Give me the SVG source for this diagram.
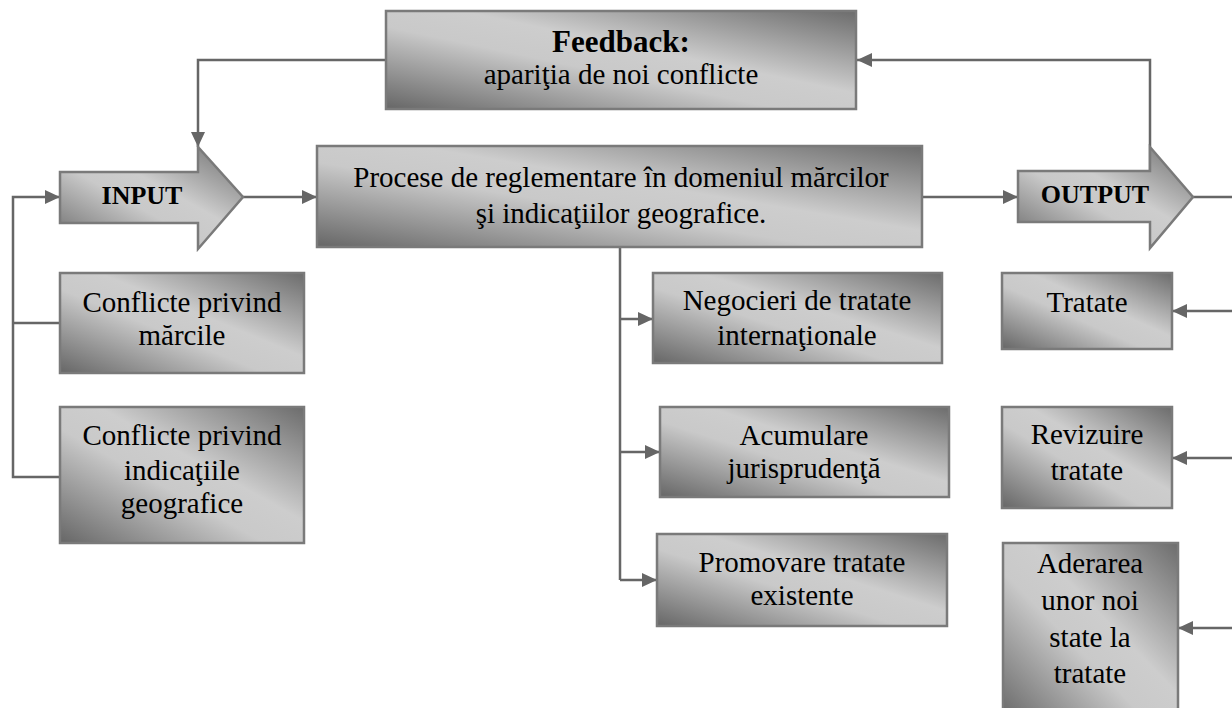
<svg xmlns="http://www.w3.org/2000/svg" width="1232" height="708" viewBox="0 0 1232 708">
<defs>
<linearGradient id="g" x1="0" y1="1" x2="1" y2="0">
<stop offset="0" stop-color="#666666"/>
<stop offset="0.42" stop-color="#c9c9c9"/>
<stop offset="0.58" stop-color="#cdcdcd"/>
<stop offset="1" stop-color="#6c6c6c"/>
</linearGradient>
<marker id="ah" markerUnits="userSpaceOnUse" markerWidth="15" markerHeight="14" refX="15" refY="7" orient="auto">
<path d="M0,0 L15,7 L0,14 z" fill="#666666"/>
</marker>
<style>
.box{fill:url(#g);stroke:#7a7a7a;stroke-width:2.5}
.t{font-family:"Liberation Serif","Times New Roman",serif;font-size:29px;fill:#000;text-anchor:middle}
.b{font-weight:bold}
.c{fill:none;stroke:#666666;stroke-width:2.5}
.a{marker-end:url(#ah)}
</style>
</defs>
<rect width="1232" height="708" fill="#ffffff"/>
<g id="connectors">
<path class="c a" d="M386,60 H198 V147"/>
<path class="c" d="M60,323 H13"/>
<path class="c a" d="M60,477 H13 V197 H60"/>
<path class="c a" d="M243,197 H317"/>
<path class="c a" d="M922,197 H1018"/>
<path class="c a" d="M1150,171 V60 H857"/>
<path class="c" d="M1193,197 H1237 V628"/>
<path class="c a" d="M1237,311 H1172"/>
<path class="c a" d="M1237,458 H1172"/>
<path class="c a" d="M1237,628 H1178"/>
<path class="c" d="M620,247 V580"/>
<path class="c a" d="M620,319 H653"/>
<path class="c a" d="M620,452 H660"/>
<path class="c a" d="M620,580 H657"/>
</g>
<g id="feedback">
<rect class="box" x="386" y="11" width="470" height="98"/>
<text class="t b" x="621" y="52" style="font-size:31px">Feedback:</text>
<text class="t" x="621" y="84">apariţia de noi conflicte</text>
</g>
<g id="input">
<path class="box" d="M60,172 H198 V147 L243,197 L198,249 V223 H60 Z"/>
<text class="t b" x="142" y="204" style="font-size:26px">INPUT</text>
</g>
<g id="process">
<rect class="box" x="317" y="146" width="605" height="101"/>
<text class="t" x="621" y="187">Procese de reglementare în domeniul mărcilor</text>
<text class="t" x="621" y="223">şi indicaţiilor geografice.</text>
</g>
<g id="output">
<path class="box" d="M1018,171 H1150 V147 L1193,197 L1150,248 V222 H1018 Z"/>
<text class="t b" x="1095" y="203" style="font-size:26px">OUTPUT</text>
</g>
<g id="conflicte-marci">
<rect class="box" x="60" y="273" width="244" height="100"/>
<text class="t" x="182" y="312">Conflicte privind</text>
<text class="t" x="182" y="345">mărcile</text>
</g>
<g id="conflicte-ig">
<rect class="box" x="60" y="407" width="244" height="136"/>
<text class="t" x="182" y="445">Conflicte privind</text>
<text class="t" x="182" y="480">indicaţiile</text>
<text class="t" x="182" y="513">geografice</text>
</g>
<g id="negocieri">
<rect class="box" x="653" y="273" width="289" height="90"/>
<text class="t" x="797" y="310">Negocieri de tratate</text>
<text class="t" x="797" y="345">internaţionale</text>
</g>
<g id="acumulare">
<rect class="box" x="660" y="407" width="289" height="90"/>
<text class="t" x="804" y="445">Acumulare</text>
<text class="t" x="804" y="478">jurisprudenţă</text>
</g>
<g id="promovare">
<rect class="box" x="657" y="534" width="290" height="92"/>
<text class="t" x="802" y="572">Promovare tratate</text>
<text class="t" x="802" y="605">existente</text>
</g>
<g id="tratate">
<rect class="box" x="1002" y="273" width="170" height="76"/>
<text class="t" x="1087" y="312">Tratate</text>
</g>
<g id="revizuire">
<rect class="box" x="1002" y="407" width="170" height="101"/>
<text class="t" x="1087" y="444">Revizuire</text>
<text class="t" x="1087" y="480">tratate</text>
</g>
<g id="aderarea">
<rect class="box" x="1003" y="543" width="175" height="180"/>
<text class="t" x="1090" y="573">Aderarea</text>
<text class="t" x="1090" y="610">unor noi</text>
<text class="t" x="1090" y="647">state la</text>
<text class="t" x="1090" y="683">tratate</text>
</g>
</svg>
